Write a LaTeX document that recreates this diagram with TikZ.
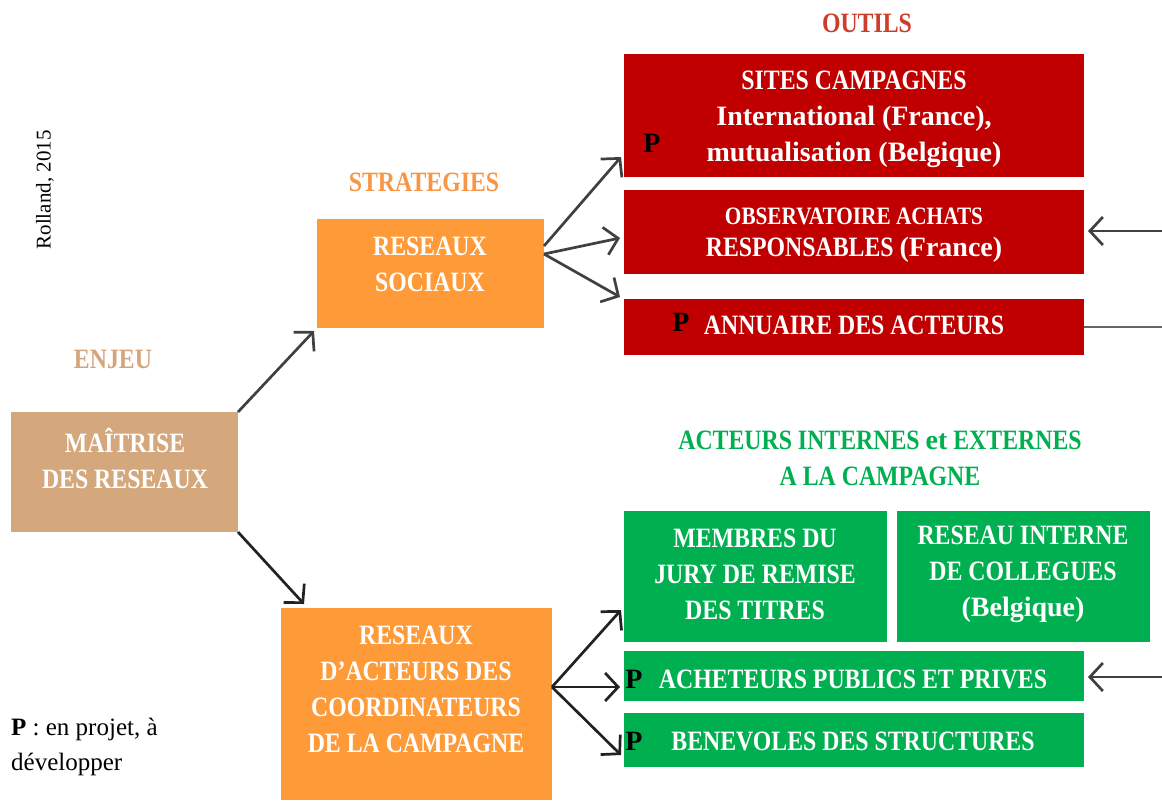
\documentclass[tikz,border=0pt]{standalone}
\usepackage{fontspec}
\setmainfont{Liberation Serif}
\newfontfamily\capf[FakeStretch=0.85]{Liberation Serif}
\newfontfamily\lcf{Liberation Serif}
\usetikzlibrary{arrows.meta}
\definecolor{cred}{RGB}{192,0,0}
\definecolor{cgreen}{RGB}{0,176,80}
\definecolor{corange}{RGB}{255,154,56}
\definecolor{ctan}{RGB}{212,167,124}
\definecolor{toutils}{RGB}{205,62,42}
\definecolor{tstrat}{RGB}{248,150,70}
\definecolor{tenjeu}{RGB}{212,165,122}
\definecolor{arrgray}{RGB}{64,64,64}
\definecolor{arrdark}{RGB}{34,34,34}
\tikzset{
  box/.style={rectangle, inner sep=0pt, outer sep=0pt},
  btxt/.style={text=white, inner sep=0pt, align=center, font=\capf\bfseries\fontsize{28}{36}\selectfont},
  ptxt/.style={text=black, inner sep=0pt, font=\lcf\bfseries\fontsize{28}{36}\selectfont},
  ttl/.style={inner sep=0pt, align=center, font=\capf\bfseries\fontsize{28}{36}\selectfont},
  arr/.style={draw=arrgray, line width=2.7pt, -{Straight Barb[length=13pt,width=28pt,line width=2.7pt]}},
  arrk/.style={draw=arrdark, line width=2.7pt, -{Straight Barb[length=13pt,width=28pt,line width=2.7pt]}},
}
\begin{document}
\begin{tikzpicture}[x=1pt,y=-1pt]
\useasboundingbox (0,0) rectangle (1162,801);
% boxes
\node[box, fill=ctan, minimum width=227pt, minimum height=120pt] (tan) at (124.5,472) {};
\node[box, fill=corange, minimum width=227pt, minimum height=109pt] (org1) at (430.5,273.5) {};
\node[box, fill=corange, minimum width=271pt, minimum height=192pt] (org2) at (416.5,704) {};
\node[box, fill=cred, minimum width=460pt, minimum height=123pt] (red1) at (854,115.5) {};
\node[box, fill=cred, minimum width=460pt, minimum height=84pt] (red2) at (854,232) {};
\node[box, fill=cred, minimum width=460pt, minimum height=56pt] (red3) at (854,327) {};
\node[box, fill=cgreen, minimum width=263pt, minimum height=131pt] (g1) at (755.5,576.5) {};
\node[box, fill=cgreen, minimum width=253pt, minimum height=131pt] (g2) at (1023.5,576.5) {};
\node[box, fill=cgreen, minimum width=460pt, minimum height=50pt] (g3) at (854,676) {};
\node[box, fill=cgreen, minimum width=460pt, minimum height=54pt] (g4) at (854,740) {};
% titles
\node[ttl, text=toutils] (tout) at (867,23) {OUTILS};
\node[ttl, text=tstrat] (tstr) at (424,182) {STRATEGIES};
\node[ttl, text=tenjeu] (tenj) at (113,359) {ENJEU};
\node[ttl, text=cgreen] (tact) at (880,458) {ACTEURS INTERNES {\lcf et} EXTERNES\\A LA CAMPAGNE};
% box texts
\node[btxt] (ttan) at (125,458) {MA\^ITRISE\\DES RESEAUX};
\node[btxt] (torg1) at (430,264) {RESEAUX\\SOCIAUX};
\node[btxt] (torg2) at (416,689) {RESEAUX\\D’ACTEURS DES\\COORDINATEURS\\DE LA CAMPAGNE};
\node[btxt] (tred1) at (854,119) {SITES CAMPAGNES\\{\lcf International (France),}\\{\lcf mutualisation (Belgique)}};
\node[btxt, font=\capf\bfseries\fontsize{25}{30}\selectfont] (tred2a) at (854,216) {OBSERVATOIRE ACHATS};
\node[btxt] (tred2b) at (854,250) {RESPONSABLES {\lcf (France)}};
\node[btxt] (tred3) at (854,325) {ANNUAIRE DES ACTEURS};
\node[btxt] (tg1) at (755,574) {MEMBRES DU\\JURY DE REMISE\\DES TITRES};
\node[btxt] (tg2) at (1023,574) {RESEAU INTERNE\\DE COLLEGUES\\{\lcf (Belgique)}};
\node[btxt] (tg3) at (853,679) {ACHETEURS PUBLICS ET PRIVES};
\node[btxt] (tg4) at (853,741) {BENEVOLES DES STRUCTURES};
% P marks
\node[ptxt] (p1) at (652,143) {P};
\node[ptxt] (p2) at (681,322) {P};
\node[ptxt] (p3) at (634,679) {P};
\node[ptxt] (p4) at (634,741) {P};
% side texts
\node[inner sep=0pt, rotate=90, font=\lcf\fontsize{21}{25}\selectfont] (roll) at (45,190) {Rolland, 2015};
\node[inner sep=0pt, anchor=west, align=left, font=\lcf\fontsize{25}{35}\selectfont] (leg) at (11,747) {\textbf{P} : en projet, \`a\\d\'evelopper};
% connectors
\draw[arr] (tan.north east) -- ([shift={(-3,3)}]org1.south west);
\draw[arrk] (tan.south east) -- ([shift={(23,-4)}]org2.north west);
\draw[arr] ([shift={(0,-27.5)}]org1.east) -- ([shift={(-3,-20)}]red1.south west);
\draw[arr] ([shift={(0,-19.5)}]org1.east) -- ([shift={(-4,6)}]red2.west);
\draw[arr] ([shift={(0,-19.5)}]org1.east) -- ([shift={(-4,-2)}]red3.north west);
\draw[arrk] ([shift={(0,-17)}]org2.east) -- ([shift={(-3,-32)}]g1.south west);
\draw[arrk] ([shift={(0,-17)}]org2.east) -- ([shift={(-4,11)}]g3.west);
\draw[arrk] ([shift={(0,-17)}]org2.east) -- ([shift={(-3,15)}]g4.west);
\coordinate (e1) at (1162,231);
\coordinate (e2) at (1162,327);
\coordinate (e3) at (1162,677);
\draw[arr] (e1) -- ([shift={(4,-1)}]red2.east);
\draw[draw=arrgray!80, line width=1.5pt] (red3.east) -- (e2);
\draw[arr] (e3) -- ([shift={(4,1)}]g3.east);
\end{tikzpicture}
\end{document}
